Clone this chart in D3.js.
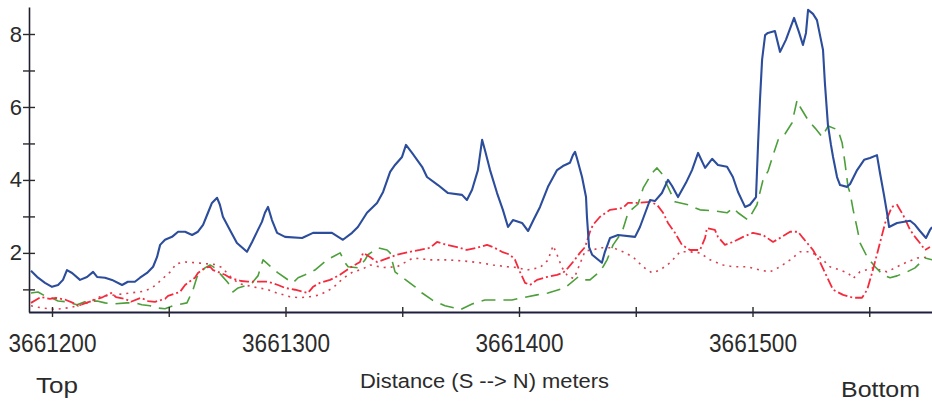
<!DOCTYPE html>
<html>
<head>
<meta charset="utf-8">
<script src="https://cdn.jsdelivr.net/npm/d3@7"></script>
<style>
  html, body { margin: 0; padding: 0; background: #ffffff; }
  svg { display: block; }
  text { font-family: "Liberation Sans", Arial, sans-serif; fill: #2b2b2b; }
</style>
</head>
<body>
<svg id="chart" width="932" height="405"></svg>
<script>
// Axis ticks and labels
const xTickValues = [3661200, 3661250, 3661300, 3661350, 3661400, 3661450, 3661500, 3661550];
const xLabelValues = [3661200, 3661300, 3661400, 3661500];
const yTickValues = [1, 2, 3, 4, 5, 6, 7, 8];
const yLabelValues = [2, 4, 6, 8];
const xTitle = "Distance (S --> N) meters";
const leftNote = "Top";
const rightNote = "Bottom";

// Series 1 (solid blue)
const blueDist = [3661191.0, 3661194.0, 3661197.0, 3661200.0, 3661202.6, 3661204.7, 3661206.4, 3661208.6, 3661212.0, 3661215.0,
  3661217.6, 3661219.3, 3661222.7, 3661225.7, 3661230.0, 3661232.5, 3661235.5, 3661237.7, 3661240.7, 3661243.3,
  3661245.0, 3661246.3, 3661248.4, 3661251.4, 3661254.0, 3661257.0, 3661260.0, 3661262.5, 3661264.7, 3661266.8,
  3661268.5, 3661270.7, 3661271.9, 3661273.2, 3661276.2, 3661279.2, 3661283.5, 3661285.7, 3661288.2, 3661289.9,
  3661291.2, 3661292.5, 3661294.2, 3661296.4, 3661299.8, 3661307.1, 3661311.8, 3661319.9, 3661324.6, 3661328.5,
  3661331.0, 3661334.9, 3661339.2, 3661341.8, 3661344.8, 3661346.9, 3661349.9, 3661351.6, 3661354.2, 3661358.5,
  3661360.6, 3661365.3, 3661369.6, 3661375.6, 3661377.7, 3661379.9, 3661382.4, 3661384.2, 3661385.4, 3661387.6,
  3661390.6, 3661393.1, 3661395.3, 3661397.4, 3661401.3, 3661403.9, 3661406.4, 3661409.0, 3661412.4, 3661416.3,
  3661418.8, 3661421.8, 3661423.1, 3661424.0, 3661424.8, 3661427.0, 3661428.7, 3661429.1, 3661430.0, 3661431.3,
  3661435.5, 3661436.8, 3661439.0, 3661442.4, 3661449.7, 3661451.8, 3661456.1, 3661458.2, 3661461.2, 3661463.8,
  3661465.5, 3661468.1, 3661471.5, 3661474.1, 3661476.7, 3661479.7, 3661482.7, 3661485.2, 3661489.1, 3661491.6,
  3661493.8, 3661496.8, 3661498.9, 3661501.5, 3661502.4, 3661503.2, 3661504.1, 3661505.4, 3661506.6, 3661509.6,
  3661511.8, 3661514.3, 3661517.8, 3661519.9, 3661521.6, 3661522.9, 3661523.8, 3661525.9, 3661527.6, 3661528.9,
  3661530.2, 3661531.0, 3661532.3, 3661533.6, 3661534.5, 3661536.2, 3661537.5, 3661540.5, 3661541.8, 3661544.8,
  3661547.8, 3661550.3, 3661553.3, 3661554.6, 3661556.3, 3661557.6, 3661558.5, 3661561.9, 3661567.5, 3661569.6,
  3661571.7, 3661574.3, 3661576.0, 3661576.9];
const blueVals = [1.51, 1.32, 1.18, 1.07, 1.12, 1.26, 1.53, 1.45, 1.26, 1.34,
  1.48, 1.34, 1.32, 1.26, 1.12, 1.21, 1.21, 1.32, 1.45, 1.62,
  1.89, 2.22, 2.36, 2.44, 2.58, 2.58, 2.49, 2.58, 2.77, 3.10,
  3.37, 3.51, 3.32, 2.99, 2.63, 2.27, 2.03, 2.30, 2.63, 2.85,
  3.10, 3.26, 2.90, 2.55, 2.44, 2.41, 2.55, 2.55, 2.36, 2.55,
  2.71, 3.10, 3.37, 3.67, 4.22, 4.41, 4.63, 4.96, 4.74, 4.36,
  4.08, 3.86, 3.64, 3.59, 3.45, 3.73, 4.27, 5.10, 4.82, 4.27,
  3.64, 3.18, 2.71, 2.90, 2.82, 2.60, 2.93, 3.26, 3.81, 4.27,
  4.38, 4.47, 4.68, 4.77, 4.60, 4.08, 3.53, 2.99, 2.16, 1.95,
  1.73, 2.03, 2.41, 2.49, 2.44, 2.71, 3.45, 3.42, 3.64, 4.00,
  3.84, 3.53, 3.92, 4.27, 4.74, 4.33, 4.58, 4.41, 4.36, 4.08,
  3.67, 3.26, 3.32, 3.53, 5.01, 6.19, 7.29, 7.97, 8.03, 8.08,
  7.51, 7.84, 8.44, 8.05, 7.70, 8.03, 8.66, 8.55, 8.38, 7.97,
  7.56, 6.66, 5.51, 4.96, 4.63, 4.08, 3.86, 3.81, 3.89, 4.27,
  4.55, 4.60, 4.68, 4.19, 3.59, 3.10, 2.71, 2.82, 2.88, 2.77,
  2.60, 2.41, 2.63, 2.71];

// Series 2 (dashed green)
const greenDist = [3661191.0, 3661194.0, 3661197.0, 3661199.1, 3661202.6, 3661206.4, 3661210.7, 3661214.1, 3661219.3, 3661222.7,
  3661226.1, 3661232.1, 3661235.5, 3661238.5, 3661242.0, 3661245.0, 3661248.4, 3661251.8, 3661257.8, 3661260.4,
  3661262.1, 3661263.4, 3661265.5, 3661267.7, 3661269.8, 3661272.8, 3661275.4, 3661277.5, 3661279.7, 3661282.7,
  3661285.7, 3661288.2, 3661290.4, 3661293.4, 3661296.8, 3661301.1, 3661303.2, 3661305.4, 3661308.4, 3661312.6,
  3661317.8, 3661323.4, 3661325.5, 3661326.8, 3661331.1, 3661334.1, 3661335.3, 3661339.6, 3661343.5, 3661344.8,
  3661346.9, 3661349.9, 3661355.5, 3661358.5, 3661362.8, 3661368.3, 3661372.6, 3661374.7, 3661379.9, 3661385.4,
  3661389.7, 3661397.0, 3661401.3, 3661407.7, 3661412.4, 3661419.7, 3661425.3, 3661427.4, 3661430.4, 3661433.9,
  3661436.0, 3661437.7, 3661440.3, 3661444.2, 3661446.7, 3661451.0, 3661453.2, 3661457.0, 3661459.1, 3661461.3,
  3661463.4, 3661466.8, 3661472.4, 3661477.5, 3661483.9, 3661489.1, 3661491.7, 3661493.8, 3661498.1, 3661501.9,
  3661504.5, 3661506.7, 3661508.4, 3661511.0, 3661513.9, 3661516.9, 3661519.1, 3661520.4, 3661523.8, 3661526.8,
  3661529.8, 3661532.4, 3661536.6, 3661538.4, 3661539.6, 3661540.9, 3661541.8, 3661543.1, 3661544.8, 3661546.1,
  3661549.1, 3661552.5, 3661555.9, 3661558.9, 3661561.9, 3661566.2, 3661569.6, 3661573.9, 3661576.9];
const greenVals = [0.90, 0.93, 0.82, 0.79, 0.68, 0.66, 0.58, 0.66, 0.68, 0.63,
  0.60, 0.63, 0.63, 0.58, 0.55, 0.49, 0.47, 0.55, 0.63, 0.99,
  1.34, 1.45, 1.59, 1.67, 1.59, 1.37, 1.18, 0.93, 1.04, 1.10,
  1.18, 1.37, 1.81, 1.64, 1.45, 1.26, 1.18, 1.32, 1.40, 1.53,
  1.81, 2.00, 1.73, 1.62, 1.59, 1.81, 1.95, 2.14, 2.08, 2.00,
  1.48, 1.34, 1.07, 0.90, 0.71, 0.55, 0.49, 0.44, 0.60, 0.71,
  0.71, 0.71, 0.77, 0.85, 0.90, 1.04, 1.34, 1.26, 1.26, 1.45,
  1.62, 1.81, 2.22, 2.58, 3.10, 3.34, 3.78, 4.19, 4.33, 4.16,
  3.86, 3.40, 3.32, 3.18, 3.15, 3.10, 3.23, 3.10, 2.90, 3.32,
  4.00, 4.25, 4.60, 5.10, 5.26, 5.56, 6.19, 6.00, 5.64, 5.42,
  5.18, 5.48, 5.37, 5.01, 4.47, 3.81, 3.64, 3.18, 2.68, 2.27,
  1.89, 1.62, 1.40, 1.32, 1.37, 1.48, 1.59, 1.86, 1.81];

// Series 3 (red dash-dot)
const redDist = [3661191.0, 3661193.1, 3661195.3, 3661197.0, 3661199.1, 3661201.7, 3661206.0, 3661209.0, 3661211.1, 3661214.6,
  3661219.7, 3661221.8, 3661225.3, 3661227.4, 3661231.3, 3661233.8, 3661238.1, 3661241.1, 3661244.1, 3661248.4,
  3661249.7, 3661254.8, 3661257.0, 3661261.2, 3661262.5, 3661265.5, 3661267.7, 3661269.0, 3661274.1, 3661276.2,
  3661280.9, 3661283.9, 3661289.5, 3661292.5, 3661296.8, 3661299.8, 3661304.1, 3661309.6, 3661311.8, 3661314.8,
  3661319.1, 3661323.3, 3661327.6, 3661331.9, 3661333.2, 3661336.2, 3661339.2, 3661341.8, 3661347.8, 3661353.3,
  3661357.6, 3661361.9, 3661364.9, 3661369.2, 3661373.5, 3661377.7, 3661382.0, 3661386.3, 3661388.9, 3661392.7,
  3661396.2, 3661398.3, 3661400.4, 3661402.6, 3661404.7, 3661407.7, 3661412.0, 3661416.3, 3661418.8, 3661421.0,
  3661423.1, 3661426.1, 3661428.3, 3661430.4, 3661431.7, 3661434.7, 3661439.0, 3661444.5, 3661446.7, 3661450.6,
  3661456.1, 3661459.1, 3661461.7, 3661463.8, 3661466.8, 3661469.8, 3661473.2, 3661477.5, 3661479.7, 3661480.5,
  3661483.9, 3661485.2, 3661488.2, 3661491.7, 3661496.0, 3661500.2, 3661504.5, 3661508.8, 3661512.6, 3661516.1,
  3661519.5, 3661521.6, 3661525.9, 3661528.9, 3661531.9, 3661534.5, 3661538.8, 3661543.1, 3661546.9, 3661549.1,
  3661551.2, 3661553.8, 3661556.8, 3661559.7, 3661561.9, 3661564.5, 3661567.5, 3661569.6, 3661571.7, 3661573.9,
  3661576.0];
const redVals = [0.63, 0.71, 0.79, 0.77, 0.74, 0.77, 0.71, 0.63, 0.55, 0.63,
  0.74, 0.79, 0.90, 0.79, 0.74, 0.66, 0.77, 0.68, 0.66, 0.74,
  0.82, 0.93, 1.12, 1.32, 1.45, 1.59, 1.62, 1.53, 1.40, 1.32,
  1.23, 1.21, 1.21, 1.21, 1.12, 1.04, 0.99, 0.90, 1.07, 1.18,
  1.26, 1.40, 1.59, 1.75, 2.00, 1.89, 1.75, 1.81, 1.95, 2.03,
  2.08, 2.14, 2.30, 2.22, 2.16, 2.08, 2.14, 2.22, 2.16, 2.03,
  1.95, 1.81, 1.48, 1.18, 1.12, 1.26, 1.34, 1.40, 1.45, 1.59,
  1.75, 2.00, 2.16, 2.58, 2.77, 2.99, 3.18, 3.23, 3.37, 3.37,
  3.40, 3.32, 3.10, 2.82, 2.55, 2.22, 2.08, 2.08, 2.41, 2.68,
  2.63, 2.44, 2.22, 2.30, 2.44, 2.55, 2.49, 2.30, 2.44, 2.58,
  2.58, 2.41, 2.08, 1.75, 1.34, 0.99, 0.85, 0.77, 0.77, 0.99,
  1.45, 2.08, 2.82, 3.26, 3.32, 3.04, 2.63, 2.44, 2.27, 2.08,
  2.16];

// Series 4 (dotted red)
const dotDist = [3661191.0, 3661194.9, 3661201.3, 3661207.7, 3661214.1, 3661220.6, 3661227.0, 3661233.4, 3661239.8, 3661244.1,
  3661247.5, 3661251.0, 3661253.1, 3661257.0, 3661263.4, 3661269.8, 3661272.8, 3661277.1, 3661280.5, 3661286.1,
  3661292.1, 3661296.4, 3661301.9, 3661306.2, 3661310.5, 3661314.8, 3661320.3, 3661324.6, 3661328.9, 3661332.8,
  3661336.2, 3661341.8, 3661347.8, 3661354.6, 3661361.9, 3661369.2, 3661376.0, 3661383.3, 3661388.9, 3661394.9,
  3661399.2, 3661403.4, 3661409.0, 3661412.4, 3661414.6, 3661416.3, 3661418.4, 3661421.0, 3661423.6, 3661426.1,
  3661428.3, 3661432.6, 3661434.7, 3661440.3, 3661444.5, 3661448.8, 3661453.1, 3661457.0, 3661460.4, 3661464.7,
  3661469.0, 3661473.2, 3661477.5, 3661481.8, 3661487.4, 3661491.7, 3661497.7, 3661503.2, 3661507.5, 3661511.8,
  3661516.1, 3661520.4, 3661524.6, 3661528.9, 3661533.2, 3661537.5, 3661540.9, 3661543.1, 3661546.0, 3661551.6,
  3661557.6, 3661561.9, 3661566.2, 3661570.5, 3661576.0];
const dotVals = [0.55, 0.50, 0.45, 0.50, 0.60, 0.80, 0.85, 0.90, 0.95, 1.10,
  1.30, 1.50, 1.70, 1.75, 1.72, 1.68, 1.60, 1.30, 1.15, 1.07,
  1.00, 0.90, 0.80, 0.77, 0.80, 0.85, 1.04, 1.30, 1.48, 1.55,
  1.67, 1.60, 1.62, 1.86, 1.81, 1.81, 1.78, 1.73, 1.67, 1.62,
  1.60, 1.53, 1.60, 1.80, 2.20, 1.95, 1.60, 1.35, 1.30, 1.70,
  2.05, 2.10, 2.14, 2.14, 2.03, 1.89, 1.62, 1.45, 1.53, 1.73,
  2.03, 2.03, 2.00, 1.81, 1.67, 1.62, 1.62, 1.53, 1.48, 1.62,
  1.81, 2.03, 2.03, 1.89, 1.62, 1.53, 1.45, 1.30, 1.48, 1.59,
  1.48, 1.62, 1.75, 1.86, 1.89];

const series = [
  { dist: dotDist,   vals: dotVals,   color: "#d8404e", width: 1.6, dash: "2,5" },
  { dist: greenDist, vals: greenVals, color: "#4c9f3a", width: 1.6, dash: "14,8" },
  { dist: redDist,   vals: redVals,   color: "#f52a3c", width: 1.8, dash: "10,3,2,3" },
  { dist: blueDist,  vals: blueVals,  color: "#2c4d9c", width: 2.1, dash: null }
];

const svg = d3.select("#chart");

const x = d3.scaleLinear().domain([3661190, 3661577]).range([28.65, 932.3]);
const y = d3.scaleLinear().domain([0.38, 8.74]).range([312, 7]);

// Data lines
const line = d3.line()
  .x(d => x(d[0]))
  .y(d => y(d[1]))
  .curve(d3.curveLinear);

series.forEach(s => {
  svg.append("path")
    .datum(d3.zip(s.dist, s.vals))
    .attr("fill", "none")
    .attr("stroke", s.color)
    .attr("stroke-width", s.width)
    .attr("stroke-linejoin", "round")
    .attr("stroke-dasharray", s.dash)
    .attr("d", line);
});

// Y axis: ticks cross the axis line, labels on even values
const yAxis = svg.append("g")
  .attr("transform", "translate(29,0)")
  .call(d3.axisLeft(y)
    .tickValues(yTickValues)
    .tickSizeInner(6)
    .tickSizeOuter(0)
    .tickPadding(1)
    .tickFormat(d => yLabelValues.includes(d) ? d : ""));
yAxis.select(".domain").attr("stroke", "#1e1e30").attr("stroke-width", 1.6);
yAxis.selectAll(".tick line").attr("x1", 6).attr("stroke", "#2a2a2a").attr("stroke-width", 1.4);
yAxis.selectAll(".tick text")
  .attr("font-size", 22)
  .attr("font-family", "Liberation Sans, Arial, sans-serif")
  .attr("fill", "#333");

// X axis
const xAxis = svg.append("g")
  .attr("transform", "translate(0,312)")
  .call(d3.axisBottom(x)
    .tickValues(xTickValues)
    .tickSizeInner(5)
    .tickSizeOuter(0)
    .tickFormat(d => xLabelValues.includes(d) ? d3.format("d")(d) : ""));
xAxis.select(".domain").attr("stroke", "#1e1e40").attr("stroke-width", 2);
xAxis.selectAll(".tick line").attr("y1", -5).attr("stroke", "#2a2a2a").attr("stroke-width", 1.4);
xAxis.selectAll(".tick text")
  .attr("y", 40)
  .attr("dy", 0)
  .attr("font-size", 26)
  .attr("font-family", "Liberation Sans, Arial, sans-serif")
  .attr("fill", "#333")
  .each(function () {
    if (this.textContent) {
      d3.select(this).attr("textLength", 88).attr("lengthAdjust", "spacingAndGlyphs");
    }
  });

// Bottom captions
svg.append("text")
  .attr("x", 36).attr("y", 393)
  .attr("font-size", 22)
  .attr("textLength", 42).attr("lengthAdjust", "spacingAndGlyphs")
  .text(leftNote);

svg.append("text")
  .attr("x", 360).attr("y", 388)
  .attr("font-size", 20)
  .attr("textLength", 249).attr("lengthAdjust", "spacingAndGlyphs")
  .text(xTitle);

svg.append("text")
  .attr("x", 841).attr("y", 397)
  .attr("font-size", 22)
  .attr("textLength", 79).attr("lengthAdjust", "spacingAndGlyphs")
  .text(rightNote);
</script>
</body>
</html>
